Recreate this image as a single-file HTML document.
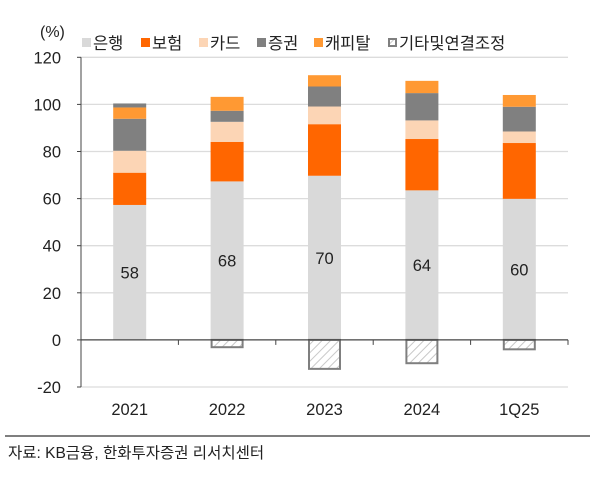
<!DOCTYPE html>
<html><head><meta charset="utf-8"><style>
body{margin:0;background:#fff;}
svg{font-family:"Liberation Sans","Noto Sans CJK KR",sans-serif;}
</style></head><body>
<svg id="chart" width="604" height="478">
<g id="grid"></g>
<g id="bars"></g>
<g id="axes"></g>
<text x="40" y="37" font-size="16" fill="#222">(%)</text>
<g id="legend"></g>
<line x1="5" y1="436" x2="590" y2="436" stroke="#555" stroke-width="1.5"/>
<text x="8" y="458" font-size="15.5" fill="#222">자료: KB금융, 한화투자증권 리서치센터</text>
<defs><pattern id="hatch" width="6" height="6" patternUnits="userSpaceOnUse" patternTransform="rotate(45)"><rect width="6" height="6" fill="#fff"/><line x1="0" y1="0" x2="0" y2="6" stroke="#c8c8c8" stroke-width="2"/></pattern></defs>
</svg>
<script>
const categories=["2021","2022","2023","2024","1Q25"];
const bank=[57.3,67.3,69.7,63.5,59.9];
const insurance=[13.7,16.8,21.9,21.8,23.7];
const card=[9.3,8.5,7.5,7.9,4.9];
const securities=[13.6,4.7,8.5,11.6,10.5];
const capital=[4.8,5.9,4.8,5.2,5.0];
const others=[1.7,-3.1,-12.3,-9.9,-4.0];
const bankLabels=["58","68","70","64","60"];
const yTicks=[-20,0,20,40,60,80,100,120];
const legendNames=["은행","보험","카드","증권","캐피탈","기타및연결조정"];
const NS="http://www.w3.org/2000/svg";
const X0=81,X1=568,yMin=-20,yMax=120,Y0=387,Y1=57.3;
const bw=33;
const y=v=>Y0-(v-yMin)/(yMax-yMin)*(Y0-Y1);
const band=(X1-X0)/categories.length;
const xc=i=>X0+band*(i+0.5);
function mk(tag,attrs,parent){const e=document.createElementNS(NS,tag);for(const k in attrs)e.setAttribute(k,attrs[k]);parent.appendChild(e);return e;}
const grid=document.getElementById('grid'),bars=document.getElementById('bars'),axes=document.getElementById('axes'),legend=document.getElementById('legend');
yTicks.forEach(t=>{
 if(t!==0){const l=mk('line',{x1:X0,x2:X1,y1:y(t),y2:y(t),stroke:'#dcdcdc','stroke-width':1.3},grid);
 
 }
 const tk=mk('line',{x1:X0-4,x2:X0,y1:y(t),y2:y(t),stroke:'#444'},axes);
 
 
 const tx=mk('text',{x:61,y:y(t)+6,'text-anchor':'end','font-size':16.5,fill:'#222'},axes);
 tx.textContent=t;
 
 
});
const series=[[bank,'#d9d9d9'],[insurance,'#ff6600'],[card,'#fcd5b5'],[securities,'#808080'],[capital,'#ff9933']];
categories.forEach((c,i)=>{
 let base=0;
 series.forEach(([arr,col],si)=>{
  const r=mk('rect',{x:xc(i)-bw/2,y:y(base+arr[i]),width:bw,height:y(base)-y(base+arr[i]),fill:col},bars);
  
  
  base+=arr[i];
 });
 const o=others[i];
 if(o>=0){
  const r=mk('rect',{x:xc(i)-bw/2,y:y(base+o),width:bw,height:y(base)-y(base+o),fill:'#808080'},bars);
  
  
 }else{
  const r=mk('rect',{x:xc(i)-bw/2+1,y:y(0),width:bw-2,height:y(o)-y(0),fill:'url(#hatch)',stroke:'#7f7f7f','stroke-width':2},bars);
  
  
 }
 const lb=mk('text',{x:xc(i),y:y(bank[i]/2)+6,'text-anchor':'middle','font-size':16.5,fill:'#222'},bars);
 lb.textContent=bankLabels[i];
 
 
 const xl=mk('text',{x:xc(i),y:415,'text-anchor':'middle','font-size':16.5,fill:'#222'},axes);
 xl.textContent=c;
 
 
 const xt=mk('line',{x1:X0+band*(i+1),x2:X0+band*(i+1),y1:y(0),y2:y(0)+5,stroke:'#444'},axes);
 
 
});
const ya=mk('line',{x1:X0,x2:X0,y1:Y1,y2:Y0,stroke:'#444','stroke-width':1},axes);


const xa=mk('line',{x1:X0,x2:X1,y1:y(0),y2:y(0),stroke:'#444','stroke-width':1.3},axes);


const legX=[82,141,199,257,314,388];
const legCols=['#d9d9d9','#ff6600','#fcd5b5','#808080','#ff9933',null];
legendNames.forEach((n,i)=>{
 const g=mk('g',{},legend);
 
 
 if(legCols[i])mk('rect',{x:legX[i],y:38,width:9,height:9,fill:legCols[i]},g);
 else mk('rect',{x:legX[i]+1,y:39,width:7,height:7,fill:'url(#hatch)',stroke:'#7f7f7f','stroke-width':2},g);
 const t=mk('text',{x:legX[i]+11,y:49,'font-size':16.5,fill:'#222'},g);
 t.textContent=n;
});
</script>
</body></html>
